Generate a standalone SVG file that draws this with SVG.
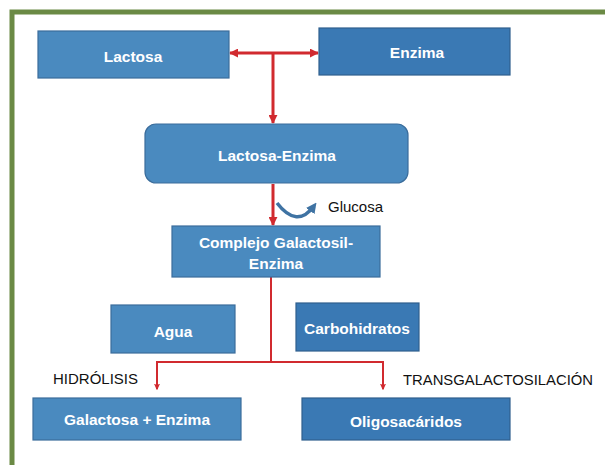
<svg xmlns="http://www.w3.org/2000/svg" width="605" height="465" viewBox="0 0 605 465">
<defs>
<style>
.light{fill:#4a8abf;stroke:#3b6d9c;stroke-width:1.2}
.dark{fill:#3a79b4;stroke:#2f5f8e;stroke-width:1.2}
.lbl{font-family:"Liberation Sans",Arial,sans-serif;font-weight:bold;font-size:15.5px;fill:#ffffff;text-anchor:middle}
.txt{font-family:"Liberation Sans",Arial,sans-serif;font-size:15px;fill:#111111}
.red{fill:none;stroke:#d12a2f}
</style>
<marker id="ah" viewBox="0 0 10 10" refX="9" refY="5" markerWidth="3" markerHeight="3" orient="auto" markerUnits="strokeWidth">
<path d="M0,0 L10,5 L0,10 z" fill="#d12a2f"/>
</marker>
<marker id="ah2" viewBox="0 0 10 10" refX="9" refY="5" markerWidth="6" markerHeight="6" orient="auto" markerUnits="userSpaceOnUse">
<path d="M0,1 L9,5 L0,9" fill="none" stroke="#d12a2f" stroke-width="2"/>
</marker>
<marker id="bh" viewBox="0 0 10 10" refX="6" refY="5" markerWidth="3" markerHeight="3" orient="auto" markerUnits="strokeWidth">
<path d="M0,0 L10,5 L0,10 z" fill="#3f73a3"/>
</marker>
</defs>
<rect x="12" y="12" width="640" height="500" fill="#ffffff" stroke="#6b8a45" stroke-width="5"/>
<g id="connectors">
<path class="red" stroke-width="3" d="M273,53 H230" marker-end="url(#ah)"/>
<path class="red" stroke-width="3" d="M273,53 H318" marker-end="url(#ah)"/>
<path class="red" stroke-width="3" d="M273,53 V123" marker-end="url(#ah)"/>
<path class="red" stroke-width="3" d="M273,184 V225" marker-end="url(#ah)"/>
<path class="red" stroke-width="2" d="M271,277 V362 H157 V389" marker-end="url(#ah2)"/>
<path class="red" stroke-width="2" d="M271,362 H383 V389" marker-end="url(#ah2)"/>
<path d="M277,203 Q297,229 314,206" fill="none" stroke="#3f73a3" stroke-width="3.5" marker-end="url(#bh)"/>
</g>
<g id="lactosa"><rect class="light" x="38" y="31" width="191" height="47"/><text class="lbl" x="133" y="62">Lactosa</text></g>
<g id="enzima"><rect class="dark" x="319" y="28" width="191" height="47"/><text class="lbl" x="417" y="58">Enzima</text></g>
<g id="lactosa-enzima"><rect class="light" x="145" y="124" width="263" height="59" rx="11"/><text class="lbl" x="277" y="161">Lactosa-Enzima</text></g>
<g id="glucosa"><text class="txt" x="328" y="212">Glucosa</text></g>
<g id="complejo"><rect class="light" x="172" y="226" width="208" height="51"/><text class="lbl" x="276" y="248">Complejo Galactosil-</text><text class="lbl" x="276" y="269">Enzima</text></g>
<g id="agua"><rect class="light" x="111" y="305" width="124" height="48"/><text class="lbl" x="173" y="337">Agua</text></g>
<g id="carbohidratos"><rect class="dark" x="296" y="303" width="123" height="48"/><text class="lbl" x="357" y="334">Carbohidratos</text></g>
<g id="hidrolisis"><text class="txt" x="53" y="384">HIDRÓLISIS</text></g>
<g id="transgalactosilacion"><text class="txt" x="403" y="385" textLength="190" lengthAdjust="spacingAndGlyphs">TRANSGALACTOSILACIÓN</text></g>
<g id="galactosa-enzima"><rect class="light" x="33" y="398" width="208" height="42"/><text class="lbl" x="137" y="425">Galactosa + Enzima</text></g>
<g id="oligosacaridos"><rect class="dark" x="302" y="398" width="208" height="42"/><text class="lbl" x="406" y="427">Oligosacáridos</text></g>
</svg>
